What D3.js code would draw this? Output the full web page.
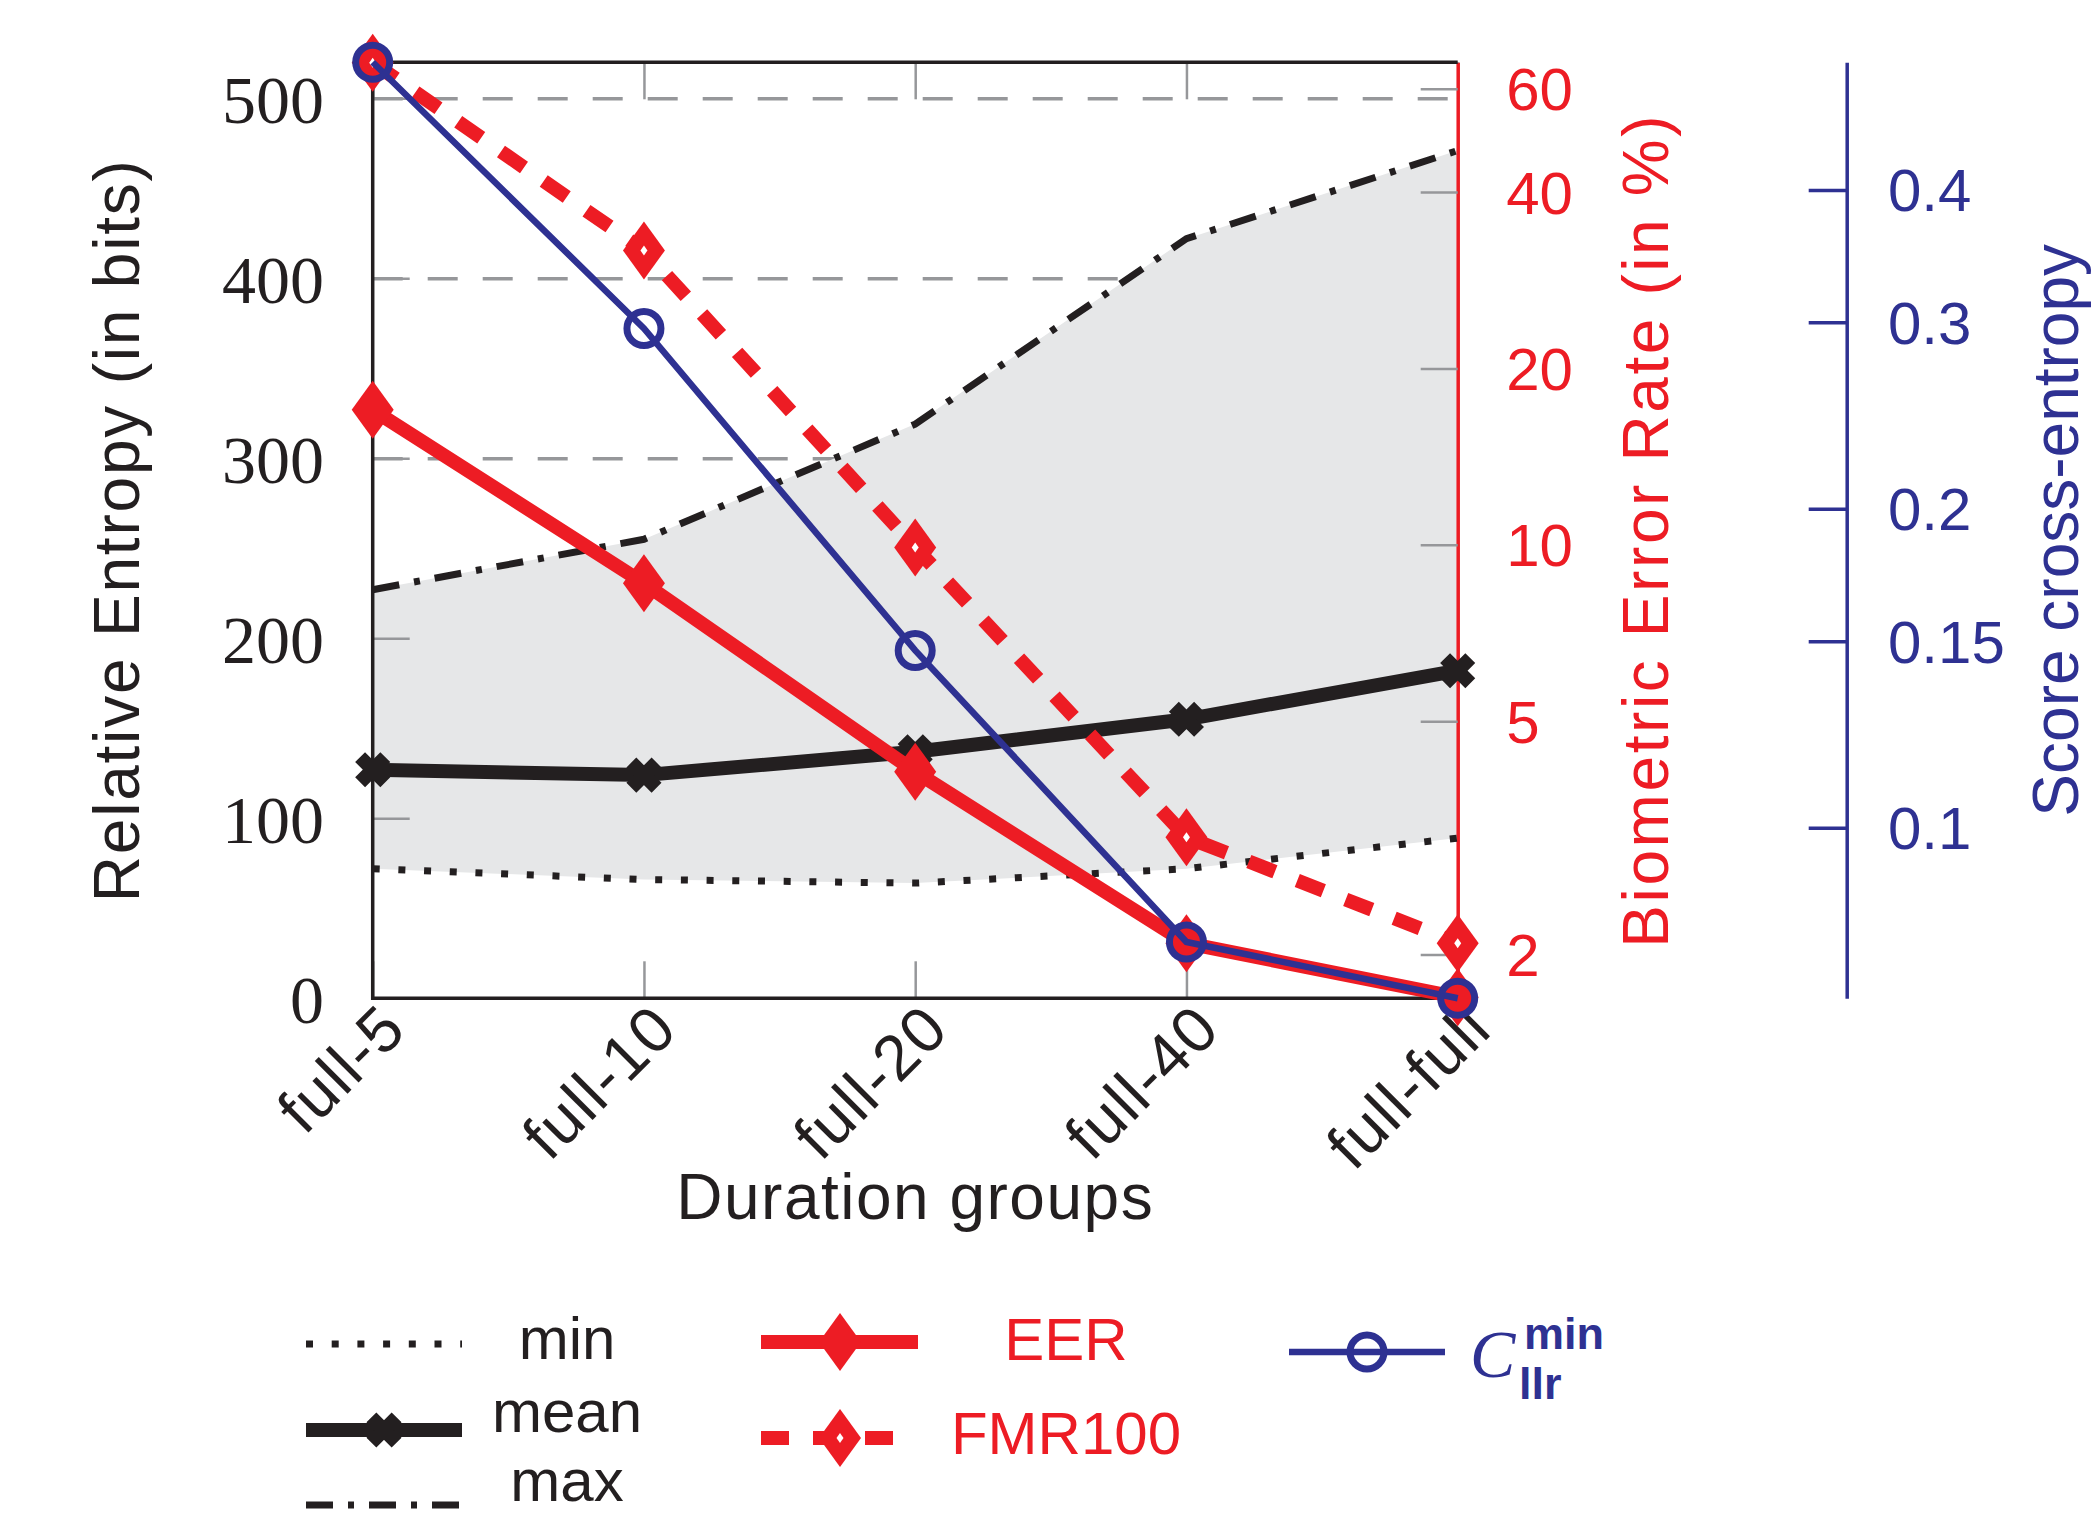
<!DOCTYPE html>
<html>
<head>
<meta charset="utf-8">
<script src="https://cdn.jsdelivr.net/npm/d3@7"></script>
<style>
  body { margin: 0; background: #fff; }
  svg { display: block; }
</style>
</head>
<body>
<svg width="2093" height="1515"></svg>
<script>
// data
var groups = ["full-5", "full-10", "full-20", "full-40", "full-full"];
var entropyMin  = [72, 66, 64, 72, 89];
var entropyMean = [127, 124, 137, 155, 182];
var entropyMax  = [227, 255, 319, 422, 471];
var eer    = [17.0, 8.6, 4.1, 2.09, 1.69];      // %
var fmr100 = [66.5, 31.8, 9.9, 3.17, 2.09];     // %
var cllrMin = [0.528, 0.296, 0.147, 0.078, 0.069];

var entropyTicks = [0, 100, 200, 300, 400, 500];
var gridTicks    = [100, 200, 300, 400, 500];
var errorTicks   = [2, 5, 10, 20, 40, 60];
var cllrTicks    = [0.1, 0.15, 0.2, 0.3, 0.4];

var entropyLimits = [0, 520];
var errorLimits   = [1.683, 66.6];
var cllrLimits    = [0.069, 0.528];

var RED = "#ed1c24", BLUE = "#2e3192", INK = "#231f20",
    GRID = "#96979a", FILL = "#e6e7e8";
var SANS = "'Liberation Sans', Arial, sans-serif",
    SERIF = "'Liberation Serif', 'Times New Roman', serif";

var plotL = 372.7, plotR = 1457.7, plotT = 62.3, plotB = 998.3;
var blueX = 1846.7, tickLen = 37;

var svg = d3.select("svg");

var x = d3.scalePoint().domain(groups).range([plotL, plotR]);
var yL = d3.scaleLinear().domain(entropyLimits).range([plotB, plotT]);
var yR = d3.scaleLog().domain(errorLimits).range([plotB, plotT]);
var yB = d3.scaleLog().domain(cllrLimits).range([plotB, plotT]);

var rows = groups.map(function(g, i) {
    return { g: g, min: entropyMin[i], mean: entropyMean[i], max: entropyMax[i],
             eer: eer[i], fmr: fmr100[i], cllr: cllrMin[i] };
});

// dashed grid (under the shaded band)
var grid = svg.append("g").attr("transform", "translate(" + plotL + ",0)")
    .call(d3.axisLeft(yL).tickValues(gridTicks).tickSize(-(plotR - plotL)).tickFormat(""));
grid.select(".domain").remove();
grid.selectAll(".tick line").attr("stroke", GRID).attr("stroke-width", 3.5)
    .attr("stroke-dasharray", "30,25");

// min..max band
svg.append("path").datum(rows)
    .attr("fill", FILL)
    .attr("d", d3.area().x(d => x(d.g)).y0(d => yL(d.min)).y1(d => yL(d.max)));

// left axis: inward ticks + serif labels
var axL = svg.append("g").attr("transform", "translate(" + plotL + ",0)")
    .call(d3.axisLeft(yL).tickValues(entropyTicks).tickSize(-tickLen).tickSizeOuter(0)
          .tickPadding(48.7).tickFormat(d3.format("d")));
axL.select(".domain").remove();
axL.attr("font-family", SERIF).attr("font-size", 68);
axL.selectAll(".tick line").attr("stroke", GRID).attr("stroke-width", 2.5);
axL.selectAll(".tick text").attr("fill", INK).attr("dy", "0.35em");

// bottom / top category ticks
var axB = svg.append("g").attr("transform", "translate(0," + plotB + ")")
    .call(d3.axisBottom(x).tickSize(-tickLen).tickSizeOuter(0).tickPadding(0));
axB.select(".domain").remove();
axB.attr("font-family", SANS).attr("font-size", 64);
axB.selectAll(".tick line").attr("stroke", GRID).attr("stroke-width", 2.5);
axB.selectAll(".tick text").attr("fill", INK).attr("y", 0).attr("dy", "0.35em")
    .attr("letter-spacing", 1.5)
    .attr("text-anchor", "end").attr("transform", "translate(20,18) rotate(-45)");

var axT = svg.append("g").attr("transform", "translate(0," + plotT + ")")
    .call(d3.axisTop(x).tickSize(-tickLen).tickSizeOuter(0).tickFormat(""));
axT.select(".domain").remove();
axT.selectAll(".tick line").attr("stroke", GRID).attr("stroke-width", 2.5);

// red log axis on the right edge of the plot
var axR = svg.append("g").attr("transform", "translate(" + plotR + ",0)")
    .call(d3.axisRight(yR).tickValues(errorTicks).tickSize(-tickLen).tickSizeOuter(0)
          .tickPadding(48.5).tickFormat(d => String(d)));
axR.attr("font-family", SANS).attr("font-size", 60);
axR.select(".domain").attr("stroke", RED).attr("stroke-width", 3.5);
axR.selectAll(".tick line").attr("stroke", GRID).attr("stroke-width", 2.5);
axR.selectAll(".tick text").attr("fill", RED).attr("dy", "0.35em");

// frame (black part)
svg.append("path")
    .attr("d", "M" + plotR + "," + plotT + "H" + plotL + "V" + plotB + "H" + plotR)
    .attr("fill", "none").attr("stroke", INK).attr("stroke-width", 3.5);

// blue log axis, detached
var axC = svg.append("g").attr("transform", "translate(" + blueX + ",0)")
    .call(d3.axisRight(yB).tickValues(cllrTicks).tickSize(-38).tickSizeOuter(0)
          .tickPadding(41.3).tickFormat(d => String(d)));
axC.attr("font-family", SANS).attr("font-size", 60);
axC.select(".domain").attr("stroke", BLUE).attr("stroke-width", 3.5);
axC.selectAll(".tick line").attr("stroke", BLUE).attr("stroke-width", 3.5);
axC.selectAll(".tick text").attr("fill", BLUE).attr("dy", "0.35em");

// styles shared by plot and legend
var st = {
    min:  { stroke: INK, width: 7, dash: "7,18.7" },
    max:  { stroke: INK, width: 7, dash: "27,15,6,15" },
    mean: { stroke: INK, width: 14, dash: null },
    eer:  { stroke: RED, width: 14, dash: null },
    fmr:  { stroke: RED, width: 14, dash: "28,24" },
    cllr: { stroke: BLUE, width: 6.5, dash: null }
};
function styleLine(sel, s) {
    sel.attr("fill", "none").attr("stroke", s.stroke).attr("stroke-width", s.width)
       .attr("stroke-dasharray", s.dash);
}
var diamond = "M0,-29L21,0L0,29L-21,0Z";
var crossX = "M-12.6,-12.6L12.6,12.6M-12.6,12.6L12.6,-12.6";
var hole = "M0,-5L3.5,0L0,5L-3.5,0Z";

function drawMark(g, kind) {
    if (kind === "mean") {
        g.append("path").attr("d", crossX).attr("stroke", INK).attr("stroke-width", 14).attr("fill", "none");
    } else if (kind === "eer") {
        g.append("path").attr("d", diamond).attr("fill", RED);
    } else if (kind === "fmr") {
        g.append("path").attr("d", diamond).attr("fill", RED);
        g.append("path").attr("d", hole).attr("fill", "#fff");
    } else if (kind === "cllr") {
        g.append("circle").attr("r", 17).attr("fill", "none").attr("stroke", BLUE).attr("stroke-width", 7);
    }
}

function series(key, yScale, marks) {
    var line = d3.line().x(d => x(d.g)).y(d => yScale(d[key]));
    svg.append("path").datum(rows).call(styleLine, st[key]).attr("d", line);
    if (marks) {
        svg.append("g").selectAll("g").data(rows).join("g")
            .attr("transform", d => "translate(" + x(d.g) + "," + yScale(d[key]) + ")")
            .each(function() { drawMark(d3.select(this), key); });
    }
}
series("min", yL, false);
series("max", yL, false);
series("mean", yL, true);
series("eer", yR, true);
series("fmr", yR, true);
series("cllr", yB, true);

// axis titles
function title(txt, tx, ty, rot, color, ls) {
    svg.append("text")
        .attr("transform", "translate(" + tx + "," + ty + ")" + (rot ? " rotate(-90)" : ""))
        .attr("text-anchor", "middle").attr("font-family", SANS).attr("font-size", 64)
        .attr("letter-spacing", ls).attr("fill", color).text(txt);
}
var midY = (plotT + plotB) / 2;
title("Relative Entropy (in bits)", 139, midY, true, INK, 1.8);
title("Biometric Error Rate (in %)", 1668, midY, true, RED, 2.6);
title("Score cross-entropy", 2078, midY, true, BLUE, 0);
title("Duration groups", (plotL + plotR) / 2, 1219, false, INK, 1.5);

// legend
var legend = [
    { key: "min",  x0: 306, x1: 462, y: 1344, label: "min",  lx: 567, ly: 1359, color: INK },
    { key: "mean", x0: 306, x1: 462, y: 1430, label: "mean", lx: 567, ly: 1432, color: INK },
    { key: "max",  x0: 306, x1: 462, y: 1505, label: "max",  lx: 567, ly: 1501, color: INK },
    { key: "eer",  x0: 761, x1: 918, y: 1342, label: "EER",  lx: 1066, ly: 1360, color: RED },
    { key: "fmr",  x0: 761, x1: 900, y: 1438, label: "FMR100", lx: 1066, ly: 1454, color: RED },
    { key: "cllr", x0: 1289, x1: 1445, y: 1352, label: null, color: BLUE }
];
legend.forEach(function(e) {
    svg.append("path").call(styleLine, st[e.key])
        .attr("d", "M" + e.x0 + "," + e.y + "H" + e.x1);
    var cx = (e.x0 + e.x1) / 2;
    if (e.key === "fmr" || e.key === "eer") cx = 840;
    if (e.key === "cllr") cx = 1367;
    if (e.key !== "min" && e.key !== "max") {
        drawMark(svg.append("g").attr("transform", "translate(" + cx + "," + e.y + ")"), e.key);
    }
    if (e.label) {
        svg.append("text").attr("x", e.lx).attr("y", e.ly).attr("text-anchor", "middle")
            .attr("font-family", SANS).attr("font-size", 60).attr("fill", e.color).text(e.label);
    }
});
svg.append("text").attr("x", 1470).attr("y", 1377).attr("font-family", SERIF)
    .attr("font-style", "italic").attr("font-size", 68).attr("fill", BLUE).text("C");
svg.append("text").attr("x", 1524).attr("y", 1349).attr("font-family", SANS)
    .attr("font-weight", "bold").attr("font-size", 45).attr("fill", BLUE).text("min");
svg.append("text").attr("x", 1519).attr("y", 1399).attr("font-family", SANS)
    .attr("font-weight", "bold").attr("font-size", 45).attr("fill", BLUE).text("llr");
</script>
</body>
</html>
